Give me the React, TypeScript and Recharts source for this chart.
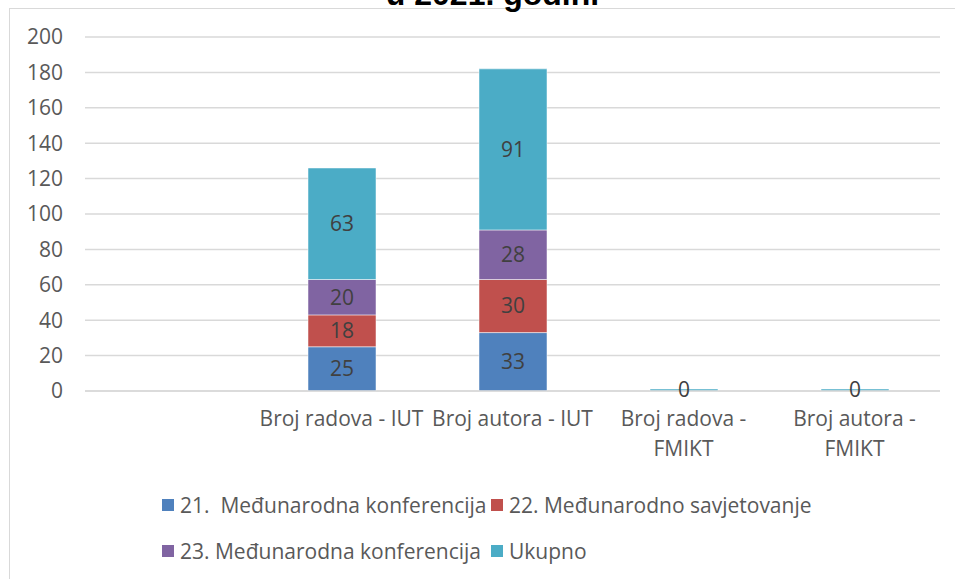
import { BarChart, Bar, XAxis, YAxis, CartesianGrid, LabelList, Legend } from 'recharts';

const categories = ['', 'Broj radova - IUT', 'Broj autora - IUT', 'Broj radova - FMIKT', 'Broj autora - FMIKT'];
const konf21 = [null, 25, 33, 0, 0];
const savj22 = [null, 18, 30, 0, 0];
const konf23 = [null, 20, 28, 0, 0];
const ukupno = [null, 63, 91, 0, 0];
const seriesKeys = ['k21', 's22', 'k23', 'uk'];
const seriesNames = ['21.  Međunarodna konferencija', '22. Međunarodno savjetovanje', '23. Međunarodna konferencija', 'Ukupno'];
const seriesColors = ['#4F81BD', '#C0504D', '#8064A2', '#4BACC6'];
const yTicks = [0, 20, 40, 60, 80, 100, 120, 140, 160, 180, 200];

const data = categories.map((name, i) => ({
  name,
  k21: konf21[i],
  s22: savj22[i],
  k23: konf23[i],
  uk: ukupno[i],
}));

const FONT = '"Open Sans", sans-serif';
const FS = 21;

// long labels don't fit the band, so the last word goes on a second line
const splitLabel = (s: string) => {
  if (s.length <= 18) return [s];
  const words = s.split(' ');
  return [words.slice(0, -1).join(' '), words[words.length - 1]];
};

const CategoryTick = (props: any) => {
  const { x, y, payload } = props;
  const lines = splitLabel(String(payload.value));
  return (
    <text x={x} y={y} textAnchor="middle" fontSize={FS} fill="#595959" fontFamily={FONT}>
      {lines.map((l, i) => (
        <tspan key={i} x={x} dy={i === 0 ? 16 : 30}>
          {l}
        </tspan>
      ))}
    </text>
  );
};

const LegendBox = () => (
  <div style={{ position: 'relative', width: 955, height: 90, fontFamily: FONT, fontSize: FS, color: '#595959' }}>
    {seriesNames.map((n, i) => (
      <div
        key={n}
        style={{
          position: 'absolute',
          left: i % 2 === 0 ? 162 : 491,
          top: i < 2 ? 0 : 46,
          display: 'flex',
          alignItems: 'center',
          whiteSpace: 'pre',
        }}
      >
        <span style={{ width: 12, height: 12, background: seriesColors[i], display: 'inline-block', marginRight: 6 }} />
        <span>{n}</span>
      </div>
    ))}
  </div>
);

// Excel shows a thin sliver for zero totals, nothing for the empty category
const minSliver = (_v: any, index: number) => (ukupno[index] === 0 ? 2 : 0);

export default function App() {
  return (
    <div style={{ position: 'absolute', left: 0, top: 0, width: 955, height: 579, overflow: 'hidden', background: '#fff' }}>
      <div
        style={{
          position: 'absolute',
          left: 9,
          top: 8,
          width: 980,
          height: 620,
          border: '1px solid #d9d9d9',
        }}
      />
      <div
        style={{
          position: 'absolute',
          left: 0,
          width: 985,
          top: -22,
          lineHeight: '32px',
          textAlign: 'center',
          fontFamily: '"Liberation Sans", Arial, sans-serif',
          fontWeight: 'bold',
          fontSize: 32,
          color: '#000',
        }}
      >
        u 2021. godini
      </div>
      <BarChart
        width={955}
        height={579}
        data={data}
        margin={{ top: 37, right: 15, left: 25, bottom: 128 }}
        barSize={68}
      >
        <CartesianGrid vertical={false} stroke="#d9d9d9" strokeWidth={1.5} />
        <XAxis
          dataKey="name"
          tickLine={false}
          tickSize={0}
          tickMargin={19}
          height={60}
          interval={0}
          axisLine={{ stroke: '#d9d9d9', strokeWidth: 1.5 }}
          tick={<CategoryTick />}
        />
        <YAxis
          domain={[0, 200]}
          ticks={yTicks}
          width={60}
          tickLine={false}
          axisLine={false}
          tickSize={0}
          tickMargin={22}
          tick={{ fontSize: FS, fill: '#595959', fontFamily: FONT }}
        />
        <Legend
          layout="horizontal"
          verticalAlign="middle"
          align="center"
          wrapperStyle={{ top: 491, left: 0, width: 955 }}
          content={<LegendBox />}
        />
        {seriesKeys.map((k, i) => (
          <Bar
            key={k}
            dataKey={k}
            name={seriesNames[i]}
            stackId="a"
            fill={seriesColors[i]}
            stroke="#ffffff"
            strokeWidth={0.5}
            minPointSize={k === 'uk' ? minSliver : 0}
            isAnimationActive={false}
          >
            <LabelList dataKey={k} position="center" fill="#404040" fontSize={FS} fontFamily={FONT} />
          </Bar>
        ))}
      </BarChart>
    </div>
  );
}
